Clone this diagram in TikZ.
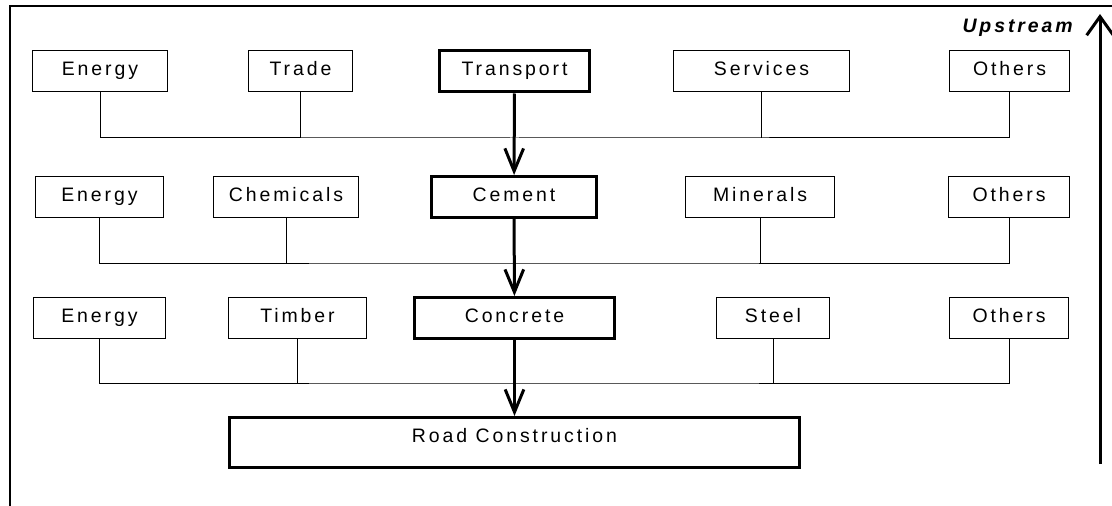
\documentclass[tikz,border=0pt]{standalone}
\usepackage{fontspec}
\setmainfont{Liberation Sans}
\newfontfamily\boxfont[LetterSpace=15]{Liberation Sans}
\usepackage{tikz}
\usetikzlibrary{positioning, arrows.meta, calc}

\begin{document}
\begin{tikzpicture}[
    x=0.75pt, y=-0.75pt,
    inputbox/.style={
        rectangle,
        draw=black,
        line width=0.75pt,
        minimum height=30.75pt,
        inner sep=0pt,
        text height=10.5pt,
        text depth=4.5pt,
        align=center,
        font=\fontsize{14.6}{17}\selectfont\boxfont
    },
    mainbox/.style={inputbox, line width=2.25pt},
    boxw/.style={minimum width={#1*0.75pt}},
    link/.style={line width=0.75pt},
    flow/.style={-{Straight Barb[length=17pt, width=14pt]}, line width=2.25pt}
]
    \useasboundingbox (0,0) rectangle (1112,506);

    % Frame
    \draw[line width=1.5pt] (1112,6.5) -- (10,6.5) -- (10,506);

    % Tier 1
    \node[inputbox, boxw=135] (energyA) at (100,71.5) {Energy};
    \node[inputbox, boxw=104] (trade) at (300.5,71.5) {Trade};
    \node[mainbox, boxw=150] (transport) at (514.5,71.5) {Transport};
    \node[inputbox, boxw=176] (services) at (761.5,71.5) {Services};
    \node[inputbox, boxw=120] (othersA) at (1009.5,71.5) {Others};

    % Tier 2
    \node[inputbox, boxw=128] (energyB) at (99.5,197) {Energy};
    \node[inputbox, boxw=145] (chemicals) at (286,197) {Chemicals};
    \node[mainbox, boxw=165] (cement) at (514,197) {Cement};
    \node[inputbox, boxw=149] (minerals) at (760,197) {Minerals};
    \node[inputbox, boxw=121] (othersB) at (1009,197) {Others};

    % Tier 3
    \node[inputbox, boxw=132] (energyC) at (99.5,318) {Energy};
    \node[inputbox, boxw=138] (timber) at (297.5,318) {Timber};
    \node[mainbox, boxw=200] (concrete) at (514.5,318) {Concrete};
    \node[inputbox, boxw=113] (steel) at (773,318) {Steel};
    \node[inputbox, boxw=119] (othersC) at (1009,318) {Others};

    % Final demand
    \node[mainbox, boxw=570, minimum height=37.5pt, text depth=10.5pt] (road) at (514.5,442.5) {Road Construction};

    % Bus lines
    \coordinate (busA) at (514,138);
    \coordinate (busB) at (514,263);
    \coordinate (busC) at (514,383);
    \draw[link] (energyA.south) |- (busA) -| (othersA.south);
    \draw[link] (trade.south) -- (trade.south |- busA);
    \draw[link] (services.south) -- (services.south |- busA);
    \draw[link] (energyB.south) |- (busB) -| (othersB.south);
    \draw[link] (chemicals.south) -- (chemicals.south |- busB);
    \draw[link] (minerals.south) -- (minerals.south |- busB);
    \draw[link] (energyC.south) |- (busC) -| (othersC.south);
    \draw[link] (timber.south) -- (timber.south |- busC);
    \draw[link] (steel.south) -- (steel.south |- busC);

    % Main chain
    \draw[flow] (transport) -- (cement);
    \draw[flow] (cement) -- (concrete);
    \draw[flow] (concrete) -- (road);

    % Upstream direction
    \coordinate (upbot) at (1100,464);
    \coordinate (uptop) at (1100,14);
    \draw[line width=2.25pt, -{Straight Barb[length=14pt, width=20pt]}] (upbot) -- (uptop);
    \node[anchor=base east, inner sep=0pt, font=\fontsize{14.6}{17}\selectfont\boxfont\bfseries\itshape] (upstream) at (1073,33) {Upstream};
\end{tikzpicture}
\end{document}
